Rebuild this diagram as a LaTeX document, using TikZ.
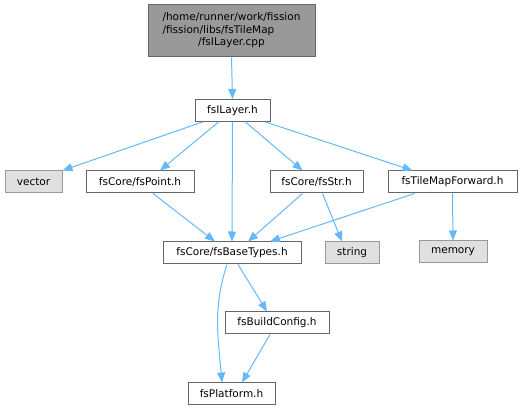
\documentclass[tikz,border=0pt]{standalone}
\usepackage{fontspec}
\setmainfont{DejaVu Sans}
\usetikzlibrary{arrows.meta}

\definecolor{edgeblue}{HTML}{63B8FF}
\definecolor{boxgray}{HTML}{E0E0E0}
\definecolor{topgray}{HTML}{999999}

\begin{document}
\begin{tikzpicture}[x=1pt,y=-1pt]
	\tikzstyle{file}=[draw=black!60,fill=white,line width=1pt,minimum height=22pt,inner sep=0pt,font=\fontsize{10.5}{12.5}\selectfont]
	\tikzstyle{sys}=[file,draw=topgray,fill=boxgray]
	\tikzstyle{dep}=[draw=edgeblue,line width=1pt,-{Triangle[length=10pt,width=8pt]}]
	\useasboundingbox (0,0) rectangle (523,411);
	\node (cpp) [file,fill=topgray,minimum width=167pt,minimum height=52pt] at (231.5,31)
		{\begin{tabular}{@{}l@{}}/home/runner/work/fission\\/fission/libs/fsTileMap\\\multicolumn{1}{c}{/fsILayer.cpp}\end{tabular}};
	\node (layer) [file,minimum width=75pt] at (232.5,110.5) {fsILayer.h};
	\node (vector) [sys,minimum width=57pt] at (33.5,182) {vector};
	\node (point) [file,minimum width=108pt] at (140,182) {fsCore/fsPoint.h};
	\node (str) [file,minimum width=93pt] at (316.5,182) {fsCore/fsStr.h};
	\node (tmf) [file,minimum width=129pt] at (452.5,182) {fsTileMapForward.h};
	\node (basetypes) [file,minimum width=138pt] at (232,253) {fsCore/fsBaseTypes.h};
	\node (string) [sys,minimum width=54pt] at (352,253) {string};
	\node (memory) [sys,minimum width=68pt] at (453,252) {memory};
	\node (buildcfg) [file,minimum width=104pt] at (277,323) {fsBuildConfig.h};
	\node (platform) [file,minimum width=87pt] at (231.5,394) {fsPlatform.h};
	\draw[dep] (cpp.south) -- (layer.north);
	\draw[dep] ([xshift=-30pt]layer.south) -- (vector.north east);
	\draw[dep] ([xshift=-14pt]layer.south) -- ([xshift=20pt]point.north);
	\draw[dep] (layer.south) -- (basetypes.north);
	\draw[dep] ([xshift=13pt]layer.south) -- ([xshift=-14pt]str.north);
	\draw[dep] ([xshift=33pt]layer.south) -- ([xshift=-40pt]tmf.north);
	\draw[dep] ([xshift=13pt]point.south) -- ([xshift=-17pt]basetypes.north);
	\draw[dep] ([xshift=-14pt]str.south) -- ([xshift=16pt]basetypes.north);
	\draw[dep] ([xshift=-38pt]tmf.south) -- ([xshift=38pt]basetypes.north);
	\draw[dep] ([xshift=6pt]str.south) -- ([xshift=-10pt]string.north);
	\draw[dep] (tmf.south) -- (memory.north);
	\draw[dep] ([xshift=6pt]basetypes.south) -- ([xshift=-10pt]buildcfg.north);
	\draw[dep] ([xshift=-5pt]basetypes.south) to[out=-108,in=95] ([xshift=-9.5pt]platform.north);
	\draw[dep] ([xshift=-7pt]buildcfg.south) -- ([xshift=10.5pt]platform.north);
\end{tikzpicture}
\end{document}
